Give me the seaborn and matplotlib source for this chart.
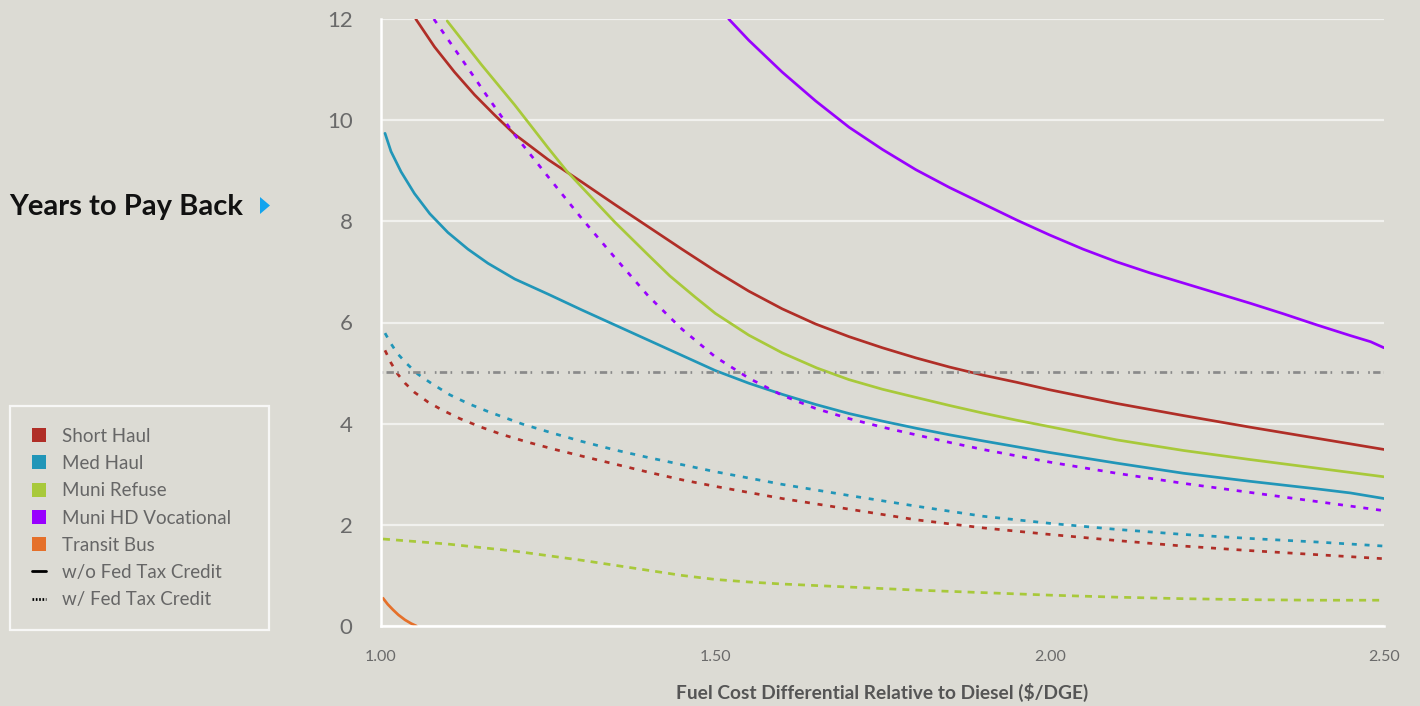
import numpy as np
import pandas as pd
import matplotlib
matplotlib.use("Agg")
import matplotlib.pyplot as plt
from matplotlib.patches import Patch, Polygon
from matplotlib.lines import Line2D
import seaborn as sns

# ---- payback curves (x: fuel cost differential in $/DGE, y: years) ----
short_haul_x = [1.052, 1.08, 1.11, 1.14, 1.17, 1.2, 1.25, 1.3, 1.35, 1.4, 1.45, 1.5, 1.55, 1.6,
                1.65, 1.7, 1.75, 1.8, 1.85, 1.9, 1.95, 2.0, 2.1, 2.2, 2.3, 2.4, 2.5]
short_haul_y = [12.0, 11.45, 10.95, 10.5, 10.1, 9.72, 9.22, 8.78, 8.33, 7.89, 7.45, 7.02, 6.62, 6.27,
                5.97, 5.72, 5.5, 5.3, 5.12, 4.96, 4.82, 4.67, 4.4, 4.16, 3.93, 3.71, 3.49]

med_haul_x = [1.006, 1.015, 1.03, 1.05, 1.073, 1.1, 1.13, 1.16, 1.2, 1.25, 1.3, 1.35, 1.4, 1.45, 1.5,
              1.55, 1.6, 1.65, 1.7, 1.75, 1.8, 1.85, 1.9, 2.0, 2.1, 2.2, 2.3, 2.4, 2.45, 2.5]
med_haul_y = [9.74, 9.38, 8.98, 8.55, 8.15, 7.78, 7.45, 7.17, 6.86, 6.56, 6.25, 5.95, 5.65, 5.35, 5.05,
              4.8, 4.58, 4.38, 4.2, 4.05, 3.91, 3.78, 3.66, 3.43, 3.22, 3.02, 2.86, 2.71, 2.63, 2.52]

muni_refuse_x = [1.099, 1.15, 1.2, 1.25, 1.278, 1.3, 1.35, 1.4, 1.432, 1.47, 1.5, 1.55, 1.6, 1.652,
                 1.7, 1.75, 1.806, 1.85, 1.9, 1.95, 2.0, 2.1, 2.2, 2.3, 2.4, 2.5]
muni_refuse_y = [11.96, 11.1, 10.3, 9.45, 8.99, 8.68, 7.98, 7.33, 6.92, 6.5, 6.18, 5.75, 5.4, 5.1,
                 4.87, 4.68, 4.5, 4.36, 4.21, 4.07, 3.94, 3.68, 3.47, 3.29, 3.12, 2.95]

muni_hd_x = [1.52, 1.55, 1.6, 1.65, 1.7, 1.75, 1.8, 1.85, 1.9, 1.95, 2.0, 2.05, 2.1, 2.15, 2.2,
             2.25, 2.3, 2.35, 2.4, 2.45, 2.48, 2.5]
muni_hd_y = [12.0, 11.58, 10.95, 10.38, 9.86, 9.42, 9.02, 8.67, 8.35, 8.03, 7.73, 7.45, 7.2, 6.98, 6.78,
             6.58, 6.38, 6.17, 5.95, 5.74, 5.62, 5.5]

transit_bus_x = [1.003, 1.01, 1.018, 1.026, 1.036, 1.045, 1.053]
transit_bus_y = [0.55, 0.43, 0.32, 0.22, 0.12, 0.05, 0.0]

# with federal tax credit
short_haul_tc_x = [1.006, 1.015, 1.025, 1.036, 1.05, 1.07, 1.09, 1.118, 1.15, 1.18, 1.218, 1.26, 1.3,
                   1.35, 1.4, 1.45, 1.5, 1.6, 1.7, 1.8, 1.9, 2.0, 2.1, 2.2, 2.3, 2.4, 2.5]
short_haul_tc_y = [5.45, 5.2, 4.98, 4.8, 4.62, 4.43, 4.28, 4.1, 3.93, 3.79, 3.64, 3.49, 3.36,
                   3.2, 3.04, 2.89, 2.76, 2.52, 2.31, 2.1, 1.94, 1.81, 1.69, 1.58, 1.49, 1.41, 1.33]

med_haul_tc_x = [1.006, 1.015, 1.025, 1.039, 1.055, 1.075, 1.103, 1.13, 1.16, 1.212, 1.26, 1.3, 1.35,
                 1.4, 1.45, 1.5, 1.6, 1.7, 1.8, 1.9, 2.0, 2.1, 2.2, 2.3, 2.4, 2.5]
med_haul_tc_y = [5.79, 5.58, 5.38, 5.18, 4.98, 4.8, 4.57, 4.4, 4.24, 3.99, 3.8, 3.65, 3.48,
                 3.33, 3.19, 3.05, 2.8, 2.58, 2.37, 2.17, 2.03, 1.91, 1.81, 1.73, 1.66, 1.58]

muni_refuse_tc_x = [1.003, 1.1, 1.2, 1.3, 1.4, 1.45, 1.5, 1.55, 1.6, 1.7, 1.8, 1.9, 2.0, 2.1, 2.2,
                    2.3, 2.4, 2.5]
muni_refuse_tc_y = [1.72, 1.62, 1.48, 1.3, 1.1, 1.0, 0.92, 0.87, 0.83, 0.77, 0.71, 0.66, 0.61, 0.57, 0.54,
                    0.52, 0.51, 0.51]

muni_hd_tc_x = [1.079, 1.1, 1.13, 1.16, 1.197, 1.25, 1.3, 1.35, 1.4, 1.45, 1.5, 1.55, 1.6, 1.65, 1.7,
                1.75, 1.8, 1.85, 1.9, 2.0, 2.1, 2.2, 2.3, 2.4, 2.5]
muni_hd_tc_y = [12.0, 11.6, 11.03, 10.45, 9.76, 8.88, 8.06, 7.28, 6.52, 5.87, 5.32, 4.9, 4.56, 4.3, 4.1,
                3.93, 3.78, 3.63, 3.49, 3.24, 3.02, 2.82, 2.64, 2.46, 2.28]

# five-year payback benchmark
benchmark_x = [1.0, 2.5]
benchmark_y = [5.03, 5.03]

segments = ["Short Haul", "Med Haul", "Muni Refuse", "Muni HD Vocational", "Transit Bus"]
x_ticks = [1.0, 1.5, 2.0, 2.5]
x_tick_labels = ["1.00", "1.50", "2.00", "2.50"]
y_ticks = [0, 2, 4, 6, 8, 10, 12]

BG = "#dcdbd4"
COLORS = {
    "Short Haul": "#b02e27",
    "Med Haul": "#2196b8",
    "Muni Refuse": "#a8c93a",
    "Muni HD Vocational": "#9900ff",
    "Transit Bus": "#e5702a",
}

series = [
    ("Short Haul", "solid", short_haul_x, short_haul_y),
    ("Med Haul", "solid", med_haul_x, med_haul_y),
    ("Muni Refuse", "solid", muni_refuse_x, muni_refuse_y),
    ("Muni HD Vocational", "solid", muni_hd_x, muni_hd_y),
    ("Transit Bus", "solid", transit_bus_x, transit_bus_y),
    ("Short Haul", "credit", short_haul_tc_x, short_haul_tc_y),
    ("Med Haul", "credit", med_haul_tc_x, med_haul_tc_y),
    ("Muni Refuse", "credit_long", muni_refuse_tc_x, muni_refuse_tc_y),
    ("Muni HD Vocational", "credit", muni_hd_tc_x, muni_hd_tc_y),
    ("Benchmark", "benchmark", benchmark_x, benchmark_y),
]

rows = []
for name, kind, xs, ys in series:
    key = f"{name}|{kind}"
    for xv, yv in zip(xs, ys):
        rows.append({"x": xv, "y": yv, "key": key})
df = pd.DataFrame(rows)

palette = {}
dashes = {}
for name, kind, _, _ in series:
    key = f"{name}|{kind}"
    palette[key] = COLORS.get(name, "#8a8a8a")
    dashes[key] = {
        "solid": "",
        "credit": (3.6, 5.6),
        "credit_long": (5.0, 4.4),
        "benchmark": (1.2, 2.4, 5.3, 2.4, 1.2, 6.7),
    }[kind]

sns.set_style("white")
plt.rcParams["font.family"] = ["Lato", "DejaVu Sans"]
plt.rcParams["lines.scale_dashes"] = False
plt.rcParams["lines.solid_joinstyle"] = "round"

fig = plt.figure(figsize=(14.2, 7.06), dpi=100)
fig.patch.set_facecolor(BG)
ax = fig.add_axes([381 / 1420, 80 / 706, 1003 / 1420, 607 / 706])
ax.set_facecolor(BG)

sns.lineplot(data=df, x="x", y="y", hue="key", style="key", palette=palette,
             dashes=dashes, estimator=None, sort=False, linewidth=1.95,
             legend=False, ax=ax)

ax.set_xlim(1.0, 2.5)
ax.set_ylim(0, 12)
ax.set_xticks(x_ticks)
ax.set_xticklabels(x_tick_labels)
ax.set_yticks(y_ticks)
ax.set_ylabel("")

# horizontal grid in light off-white, kept below the curves
ax.set_axisbelow(True)
ax.yaxis.grid(True, color="#f1f1ee", linewidth=1.6)
ax.xaxis.grid(False)
for s in ["top", "right"]:
    ax.spines[s].set_visible(False)
ax.spines["left"].set_color("white")
ax.spines["left"].set_linewidth(1.8)
ax.spines["bottom"].set_color("white")
ax.spines["bottom"].set_linewidth(1.8)

ax.tick_params(axis="y", length=10, width=1.6, color="white", pad=10.5,
               labelsize=16, labelcolor="#6a6a6a")
ax.tick_params(axis="x", length=10, width=1.8, color="white", pad=7,
               labelsize=11.5, labelcolor="#6a6a6a")
# only the first x tick (the extension of the vertical axis) is drawn
for t in ax.xaxis.get_major_ticks()[1:]:
    t.tick1line.set_visible(False)
ax.yaxis.get_major_ticks()[-1].tick1line.set_visible(False)

ax.set_xlabel("Fuel Cost Differential Relative to Diesel ($/DGE)",
              fontsize=13.8, fontweight="bold", color="#555555")
ax.xaxis.set_label_coords(0.5, (626 - 692) / 607)
ax.xaxis.label.set_verticalalignment("center")

fig.text(9 / 1420, 1 - 207 / 706, "Years to Pay Back", fontsize=21,
         fontweight="bold", color="#111111", ha="left", va="center")
fig.add_artist(Polygon([[260 / 1420, 1 - 197 / 706], [260 / 1420, 1 - 214 / 706],
                        [270 / 1420, 1 - 205.5 / 706]], closed=True,
                       facecolor="#13a4ee", edgecolor="none",
                       transform=fig.transFigure))

handles = [Patch(facecolor=COLORS[s], edgecolor="none", label=s) for s in segments]
handles += [
    Line2D([], [], color="black", linewidth=2, label="w/o Fed Tax Credit"),
    Line2D([], [], color="black", linewidth=2, dashes=(1.2, 1.2), label="w/ Fed Tax Credit"),
]
leg = fig.legend(handles=handles, loc="upper left",
                 bbox_to_anchor=(10 / 1420, 79 / 706, 259 / 1420, (627 - 406) / 706),
                 mode="expand", borderaxespad=0, fontsize=13.5, frameon=True,
                 fancybox=False, handlelength=0.75, handleheight=0.75,
                 handletextpad=0.85, labelspacing=0.55, borderpad=1.15,
                 labelcolor="#666666")
leg.get_frame().set_facecolor(BG)
leg.get_frame().set_edgecolor("white")
leg.get_frame().set_linewidth(1.6)

fig.savefig("out.png", dpi=100, facecolor=BG)
